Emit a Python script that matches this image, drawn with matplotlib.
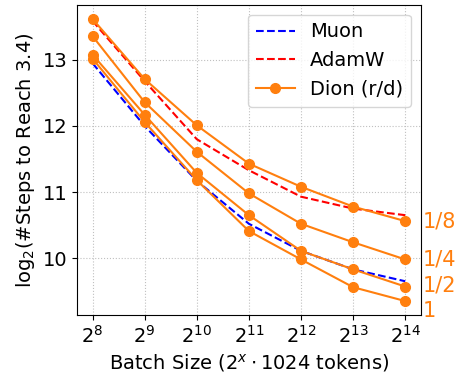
import matplotlib
matplotlib.use('Agg')
import matplotlib.pyplot as plt
import numpy as np

# batch size exponents (2^x * 1024 tokens)
batch_exp = [8, 9, 10, 11, 12, 13, 14]

# log2 of steps needed to reach loss 3.4
muon = [12.95, 12.0, 11.17, 10.52, 10.11, 9.83, 9.65]
adamw = [13.59, 12.68, 11.80, 11.33, 10.93, 10.75, 10.65]

# Dion at different rank fractions
dion_ranks = ['1/8', '1/4', '1/2', '1']
dion = [
    [13.62, 12.71, 12.01, 11.43, 11.08, 10.78, 10.56],
    [13.36, 12.36, 11.61, 10.98, 10.52, 10.24, 9.98],
    [13.08, 12.17, 11.29, 10.65, 10.11, 9.83, 9.57],
    [13.02, 12.06, 11.18, 10.41, 9.98, 9.56, 9.35],
]
# y position of the rank labels on the right
label_y = [10.56, 9.98, 9.59, 9.20]

plt.rcParams['font.size'] = 14

fig = plt.figure(figsize=(4.55, 3.73), dpi=100)
ax = fig.add_axes([0.169, 0.155, 0.756, 0.832])

ax.plot(batch_exp, muon, '--', color='blue', lw=1.5, label='Muon')
ax.plot(batch_exp, adamw, '--', color='red', lw=1.5, label='AdamW')
for i, d in enumerate(dion):
    ax.plot(batch_exp, d, '-o', color='tab:orange', lw=1.5, ms=7,
            label='Dion (r/d)' if i == 0 else None)

for txt, yy in zip(dion_ranks, label_y):
    ax.annotate(txt, xy=(1.005, yy), xycoords=('axes fraction', 'data'),
                ha='left', va='center', fontsize=15, color='tab:orange',
                annotation_clip=False)

ax.set_xticks(batch_exp)
ax.set_xticklabels(['$2^{%d}$' % b for b in batch_exp])
ax.set_yticks([10, 11, 12, 13])
ax.grid(True, linestyle=':', color='#c0c0c0')
ax.set_xlabel('Batch Size ($2^x \\cdot 1024$ tokens)')
ax.set_ylabel('log$_2$(#Steps to Reach 3.4)')
ax.legend(loc='upper right')

fig.savefig('out.png', dpi=100)
